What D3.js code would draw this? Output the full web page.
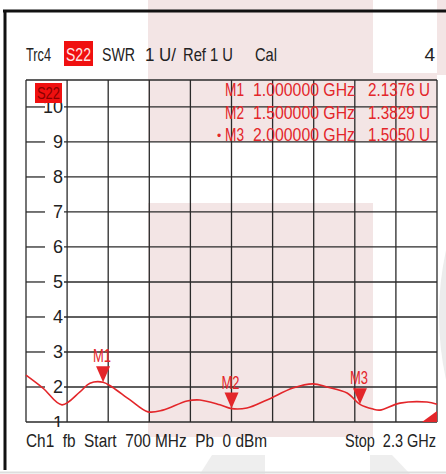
<!DOCTYPE html>
<html>
<head>
<meta charset="utf-8">
<script src="https://cdn.jsdelivr.net/npm/d3@7"></script>
<style>
  html, body { margin: 0; padding: 0; background: #fff; }
  svg { display: block; }
  text { font-family: 'Liberation Sans Narrow', 'Liberation Sans', Arial, sans-serif; white-space: pre; }
</style>
</head>
<body>
<svg id="chart"></svg>
<script>
// trace S22 (SWR), frequency in GHz
var freq = [0.700, 0.766, 0.840, 0.910, 0.949, 1.000, 1.035, 1.105, 1.175, 1.233,
            1.327, 1.377, 1.455, 1.500, 1.560, 1.638, 1.739, 1.817, 1.872, 1.950,
            2.000, 2.051, 2.078, 2.156, 2.261, 2.300]
var swr  = [2.34, 1.97, 1.49, 1.86, 2.11, 2.1376, 2.00, 1.63, 1.29, 1.34,
            1.60, 1.63, 1.49, 1.3829, 1.40, 1.63, 1.97, 2.09, 2.00, 1.83,
            1.505, 1.37, 1.34, 1.54, 1.57, 1.51]

var markerNames = ['M1', 'M2', 'M3']
var markerFreq = [1.0, 1.5, 2.0]
var markerSwr = [2.1376, 1.3829, 1.5050]
var markerFreqText = ['1.000000 GHz', '1.500000 GHz', '2.000000 GHz']
var markerSwrText = ['2.1376 U', '1.3829 U', '1.5050 U']

var yTicks = [1, 2, 3, 4, 5, 6, 7, 8, 9, 10]
var xGrid = [0.7, 0.86, 1.02, 1.18, 1.34, 1.5, 1.66, 1.82, 1.98, 2.14, 2.3]

var width = 446, height = 474
var pLeft = 26, pRight = 437, pTop = 80, pBottom = 422
var red = '#e3262a', ink = '#222'

var svg = d3.select('#chart').attr('width', width).attr('height', height)

var x = d3.scaleLinear().domain([0.7, 2.3]).range([pLeft, pRight])
var y = d3.scaleLinear().domain([1, 10.77]).range([pBottom, pTop])

// labels of the left column are cut at the bottom of the screen
svg.append('clipPath').attr('id', 'lblclip')
  .append('rect').attr('x', 0).attr('y', pTop).attr('width', pLeft + 60).attr('height', pBottom - pTop + 5)

// faint background watermark
var wm = svg.append('g')
var pink = '#f3e5e5'
wm.append('rect').attr('x', 148).attr('y', 0).attr('width', 225).attr('height', 142).attr('fill', pink)
wm.append('rect').attr('x', 373).attr('y', 73).attr('width', 64).attr('height', 69).attr('fill', pink)
wm.append('rect').attr('x', 437).attr('y', 0).attr('width', 9).attr('height', 75).attr('fill', pink)
wm.append('rect').attr('x', 148).attr('y', 203).attr('width', 225).attr('height', 234).attr('fill', pink)
wm.append('path').attr('d', 'M200,474 L212,455 L265,455 L265,474 Z').attr('fill', '#eee')
wm.append('path').attr('d', 'M370,474 L370,455 L392,455 L410,474 Z').attr('fill', '#eee')
wm.append('path').attr('d', 'M446,250 Q432,315 446,380 Z').attr('fill', '#ececec')

// outer frame
svg.append('line').attr('x1', 3).attr('x2', 446).attr('y1', 11).attr('y2', 11)
  .attr('stroke', '#111').attr('stroke-width', 3)
svg.append('line').attr('x1', 5).attr('x2', 5).attr('y1', 10).attr('y2', 470)
  .attr('stroke', '#111').attr('stroke-width', 3)
svg.append('line').attr('x1', 0).attr('x2', 446).attr('y1', 472.5).attr('y2', 472.5)
  .attr('stroke', '#ddd').attr('stroke-width', 2)

function txt(s, px, py, o) {
  o = o || {}
  var t = svg.append('text').attr('x', px).attr('y', py).text(s)
    .attr('font-size', o.size || 17)
    .attr('fill', o.fill || ink)
    .attr('text-anchor', o.anchor || 'start')
  if (o.w) t.attr('textLength', o.w).attr('lengthAdjust', 'spacingAndGlyphs')
  return t
}

// header line
txt('Trc4', 26, 61, { w: 25, size: 19 })
svg.append('rect').attr('x', 64).attr('y', 41).attr('width', 29).attr('height', 25).attr('fill', '#f01010')
txt('S22', 66, 61, { w: 25, fill: '#ffe6e6', size: 19 })
txt('SWR', 102, 61, { w: 33, size: 19 })
txt('1 U/', 145, 61, { w: 31, size: 19 })
txt('Ref 1 U', 183, 61, { w: 50, size: 19 })
txt('Cal', 255, 61, { w: 22, size: 19 })
txt('4', 435, 61, { anchor: 'end', size: 19 })

// grid
var grid = svg.append('g').attr('stroke', '#2a2a2a').attr('stroke-width', 1.3)
grid.selectAll('line.v').data(xGrid).join('line').attr('class', 'v')
  .attr('x1', d => x(d)).attr('x2', d => x(d)).attr('y1', pTop).attr('y2', pBottom)
grid.append('line').attr('x1', pLeft).attr('x2', pRight).attr('y1', pTop).attr('y2', pTop)
grid.selectAll('line.h1').data(yTicks).join('line').attr('class', 'h1')
  .attr('x1', pLeft).attr('x2', d => d === 1 ? pRight : 45).attr('y1', d => y(d)).attr('y2', d => y(d))
grid.selectAll('line.h2').data(yTicks.filter(d => d > 1)).join('line').attr('class', 'h2')
  .attr('x1', 64).attr('x2', pRight).attr('y1', d => y(d)).attr('y2', d => y(d))

// y labels
svg.append('g').attr('clip-path', 'url(#lblclip)')
  .selectAll('text').data(yTicks).join('text')
  .attr('x', 63).attr('y', d => y(d) + 6.5)
  .attr('text-anchor', 'end').attr('font-size', 18).attr('fill', ink)
  .text(d => d)

// trace label box
svg.append('rect').attr('x', 35).attr('y', 83).attr('width', 27).attr('height', 20).attr('fill', '#f01010')
txt('S22', 37, 99, { w: 23, fill: '#8a0000', size: 17 })

// marker table
markerNames.forEach(function (m, i) {
  var by = 96 + i * 22.5
  if (i === 2) txt('\u2022', 217, by - 1, { fill: red, size: 12 })
  txt(m, 225, by, { w: 19, fill: red, size: 18 })
  txt(markerFreqText[i], 253, by, { w: 102, fill: red, size: 18 })
  txt(markerSwrText[i], 430, by, { w: 62, fill: red, anchor: 'end', size: 18 })
})

// trace
var line = d3.line()
  .x(d => x(d[0])).y(d => y(d[1]))
  .curve(d3.curveCatmullRom.alpha(0.5))
svg.append('path').datum(d3.zip(freq, swr))
  .attr('d', line).attr('fill', 'none')
  .attr('stroke', red).attr('stroke-width', 1.6)

// markers
var mk = svg.append('g')
markerNames.forEach(function (m, i) {
  var mx = x(markerFreq[i]), my = y(markerSwr[i])
  mk.append('path').attr('d', 'M' + (mx - 7) + ',' + (my - 16) + 'L' + (mx + 7) + ',' + (my - 16) + 'L' + mx + ',' + my + 'Z')
    .attr('fill', red)
  txt(m, mx - 1, my - 20, { w: 18, fill: red, size: 18, anchor: 'middle' })
})

// corner marker (trace end indicator)
svg.append('path').attr('d', 'M' + pRight + ',' + (pBottom - 11) + 'L' + pRight + ',' + pBottom + 'L' + (pRight - 15) + ',' + pBottom + 'Z')
  .attr('fill', red)

// footer
txt('Ch1  fb  Start  700 MHz  Pb  0 dBm', 26, 447, { w: 241, size: 18 })
txt('Stop  2.3 GHz', 436, 447, { w: 91, size: 18, anchor: 'end' })
</script>
</body>
</html>
